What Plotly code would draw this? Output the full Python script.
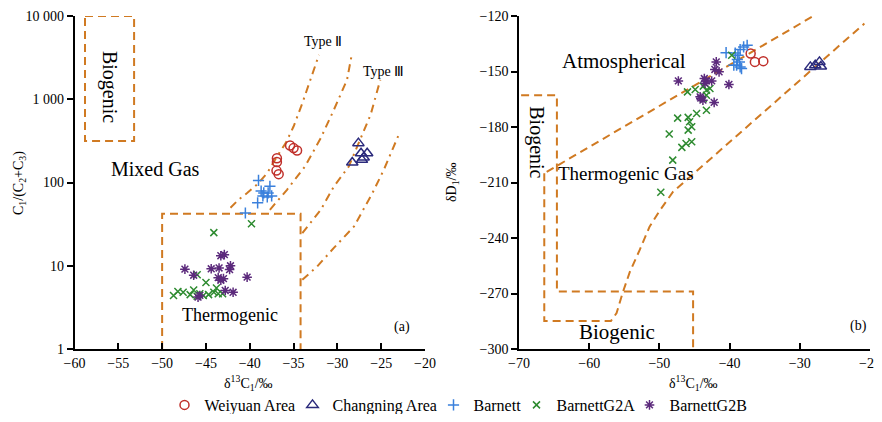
import plotly.graph_objects as go

# ---------------- data: panel (a) ----------------
weiyuan_c13_a = [-36.9, -36.9, -36.95, -36.7, -35.4, -35.0, -34.6]
weiyuan_ratio_a = [196, 176, 139, 126, 278, 259, 242]

changning_c13_a = [-27.6, -27.3, -26.6, -28.3, -27.2, -27.0]
changning_ratio_a = [297, 225, 225, 174, 187, 200]

barnett_c13_a = [-39.0, -37.7, -38.7, -38.4, -38.0, -37.5, -39.1, -38.5, -40.5, -37.9]
barnett_ratio_a = [106, 90, 79, 75, 67, 69, 57, 69, 43, 75]

g2a_c13_a = [-39.8, -44.1, -46.0, -45.0, -48.7, -48.2, -47.6, -46.8, -46.4, -45.7,
             -45.3, -44.7, -44.1, -43.8, -43.6, -43.1, -46.0]
g2a_ratio_a = [32, 25, 7.8, 6.3, 4.4, 4.9, 4.8, 4.5, 5.1, 4.6,
               4.4, 4.5, 4.8, 5.4, 4.6, 4.6, 4.3]

g2b_c13_a = [-47.4, -46.4, -44.4, -43.5, -43.3, -42.9, -42.2, -42.3, -43.6, -43.3,
             -40.3, -42.8, -41.9, -45.7, -45.9, -43.0]
g2b_ratio_a = [9.1, 7.7, 9.2, 9.4, 13.2, 13.6, 10.0, 9.0, 7.2, 6.7,
               7.3, 5.05, 4.8, 4.4, 4.2, 7.0]

# boundaries (a)
bio_box_a_x = [-58.8, -53.2, -53.2, -58.8, -58.8]
bio_box_a_y = [10000, 10000, 316, 316, 10000]
thermo_box_a_x = [-50, -50, -34.2, -34.2]
thermo_box_a_y = [1, 42, 42, 1]
type1_x = [-42.2, -41.3, -40.3, -39.2, -38.0, -36.9, -35.9, -35.0, -34.0, -33.1, -32.1]
type1_y = [49.7, 62, 74.6, 93.8, 130, 205, 297, 470, 897, 1710, 3413]
type2_x = [-37.7, -35.75, -33.7, -31.9, -30.4, -28.9, -28.4]
type2_y = [47, 81.7, 155.6, 341, 746, 1710, 3258]
type3_x = [-34.0, -31.9, -30.4, -28.7, -27.4, -26.2, -25.1]
type3_y = [24.7, 47, 89.5, 155.6, 328, 655, 1710]
type4_x = [-34.0, -32.3, -30.4, -28.1, -26.0, -24.7, -23.0]
type4_y = [6.8, 9.8, 16.4, 29.6, 74.6, 142, 374]

# ---------------- data: panel (b) ----------------
weiyuan_c13_b = [-37.0, -36.4, -35.2]
weiyuan_dD_b = [-140.3, -144.8, -144.4]

changning_c13_b = [-28.5, -27.8, -27.2, -27.0]
changning_dD_b = [-147.5, -146.6, -144.8, -147.3]

barnett_c13_b = [-40.5, -39.2, -38.5, -38.0, -37.5, -38.8, -38.9, -39.0, -38.5, -38.3, -39.4, -38.6]
barnett_dD_b = [-139.8, -140.0, -138.1, -136.7, -135.8, -141.2, -143.5, -146.6, -147.5, -148.4, -146.6, -144.8]

g2a_c13_b = [-39.7, -46.0, -44.9, -43.75, -43.3, -42.8, -43.3, -43.75, -43.3, -44.7, -47.4,
             -45.9, -45.7, -45.4, -45.9, -48.6, -45.4, -46.2, -46.8, -48.1, -49.8]
g2a_dD_b = [-141.2, -161.0, -159.7, -157.9, -160.1, -159.2, -162.8, -164.6, -170.9, -172.7, -175.2,
            -174.8, -177.2, -179.9, -181.7, -183.8, -188.0, -188.9, -191.0, -197.9, -215.3]

g2b_c13_b = [-41.9, -42.1, -41.5, -47.3, -43.6, -43.3, -42.55, -40.1, -44.2, -43.8, -42.2, -43.5, -44.1]
g2b_dD_b = [-144.8, -148.9, -150.2, -155.1, -153.8, -155.1, -155.1, -157.0, -163.7, -165.5, -166.7, -156.3, -164.4]

# boundaries (b)
upper_line_b_x = [-28.3, -66.4]
upper_line_b_y = [-120.5, -205.0]
outer_path_b_x = [-66.4, -66.4, -56.9, -56.1, -55.25, -54.2, -52.8, -51.4, -49.9, -48.05, -20.8]
outer_path_b_y = [-205.0, -284.8, -284.8, -280.6, -269.8, -258.2, -246.4, -233.9, -224.9, -215.0, -124.1]
inner_path_b_x = [-69.7, -64.6, -64.6, -45.2, -45.2]
inner_path_b_y = [-162.8, -162.8, -268.9, -268.9, -300]

# ---------------- style ----------------
W, H = 874, 406          # page adds an 8px body margin at top/left
OFF = 8
SERIF = "Liberation Serif"
ORANGE = "#d07a22"
C_WEI = "#c0302b"
C_CHA = "#2b2a7c"
C_BAR = "#3a80dc"
C_G2A = "#2e8b30"
C_G2B = "#5c2a7c"
DASH = "8px,5px"
DASHDOT = "8px,5px,2px,5px"


def px_x(page_px):
    return (page_px - OFF) / W


fig = go.Figure()


def boundary(x, y, xa, ya, dash):
    fig.add_trace(go.Scatter(x=x, y=y, mode="lines", xaxis=xa, yaxis=ya,
                             line=dict(color=ORANGE, width=2, dash=dash),
                             showlegend=False, hoverinfo="skip"))


boundary(bio_box_a_x, bio_box_a_y, "x", "y", DASH)
boundary(thermo_box_a_x, thermo_box_a_y, "x", "y", DASH)
for tx, ty in [(type1_x, type1_y), (type2_x, type2_y), (type3_x, type3_y), (type4_x, type4_y)]:
    boundary(tx, ty, "x", "y", DASHDOT)
boundary(upper_line_b_x, upper_line_b_y, "x2", "y2", DASH)
boundary(outer_path_b_x, outer_path_b_y, "x2", "y2", DASH)
boundary(inner_path_b_x, inner_path_b_y, "x2", "y2", DASH)

series = [
    ("Weiyuan Area", C_WEI, "circle-open", 9, 83, weiyuan_c13_a, weiyuan_ratio_a, weiyuan_c13_b, weiyuan_dD_b),
    ("Changning Area", C_CHA, "triangle-up-open", 10, 96, changning_c13_a, changning_ratio_a, changning_c13_b, changning_dD_b),
    ("Barnett", C_BAR, "cross-thin-open", 8, 38, barnett_c13_a, barnett_ratio_a, barnett_c13_b, barnett_dD_b),
    ("BarnettG2A", C_G2A, "x-thin-open", 7, 68, g2a_c13_a, g2a_ratio_a, g2a_c13_b, g2a_dD_b),
    ("BarnettG2B", C_G2B, "asterisk-open", 8, 77, g2b_c13_a, g2b_ratio_a, g2b_c13_b, g2b_dD_b),
]
for name, col, sym, size, lw, xa, ya, xb, yb in series:
    mk = dict(symbol=sym, size=size, color=col, line=dict(color=col, width=1.5))
    fig.add_trace(go.Scatter(x=xa, y=ya, mode="markers", name=name, marker=mk,
                             xaxis="x", yaxis="y", legendgroup=name, showlegend=True,
                             legendwidth=lw))
    fig.add_trace(go.Scatter(x=xb, y=yb, mode="markers", name=name, marker=mk,
                             xaxis="x2", yaxis="y2", legendgroup=name, showlegend=False))

axis_common = dict(showline=True, linecolor="black", linewidth=1.5, showgrid=False,
                   zeroline=False, tickfont=dict(family=SERIF, size=14, color="black"),
                   tickcolor="black", tickwidth=1.5, ticklen=6, automargin=False,
                   ticklabeloverflow="allow")

fig.update_layout(
    width=W, height=H,
    margin=dict(l=0, r=0, t=16 - OFF, b=H - (349 - OFF), autoexpand=False),
    paper_bgcolor="white", plot_bgcolor="white",
    font=dict(family=SERIF, color="black"),
    xaxis=dict(domain=[px_x(74.5), px_x(425)], range=[-60, -20],
               tickvals=[-60, -55, -50, -45, -40, -35, -30, -25, -20],
               ticks="inside", anchor="y", **axis_common),
    yaxis=dict(domain=[0, 1], type="log", range=[0, 4], tickvals=[1, 10, 100, 1000, 10000],
               ticktext=["1", "10", "100", "1 000", "10 000"], ticks="outside", anchor="x", **axis_common),
    xaxis2=dict(domain=[px_x(519), px_x(870)], range=[-70, -20], tickvals=[-70, -60, -50, -40, -30, -20],
                ticks="inside", anchor="y2", **axis_common),
    yaxis2=dict(domain=[0, 1], range=[-300, -120], tickvals=[-300, -270, -240, -210, -180, -150, -120],
                ticks="outside", anchor="x2", **axis_common),
    legend=dict(orientation="h", x=px_x(458), xanchor="center", y=(349 - 405) / 333, yanchor="middle",
                font=dict(family=SERIF, size=16, color="black"), itemwidth=30, tracegroupgap=0,
                bgcolor="rgba(0,0,0,0)"),
)


def note(text, x, y, xref, yref, size, angle=0):
    fig.add_annotation(text=text, x=x, y=y, xref=xref, yref=yref, showarrow=False,
                       xanchor="center", yanchor="middle", textangle=angle,
                       font=dict(family=SERIF, size=size, color="black"))


# panel (a) labels (log axis -> y in log10 units)
note("Type Ⅱ", -31.6, 3.689, "x", "y", 14)
note("Type Ⅲ", -24.7, 3.333, "x", "y", 14)
note("Biogenic", -56.06, 3.148, "x", "y", 20, 90)
note("Mixed Gas", -50.7, 2.162, "x", "y", 20)
note("Thermogenic", -42.2, 0.412, "x", "y", 18)
note("(a)", -22.6, 0.268, "x", "y", 14)

# panel (b) labels
note("Atmospherical", -55.0, -144.4, "x2", "y2", 21)
note("Biogenic", -67.5, -188.0, "x2", "y2", 20, 90)
note("Thermogenic Gas", -54.7, -205.4, "x2", "y2", 19)
note("Biogenic", -56.0, -291.0, "x2", "y2", 21)
note("(b)", -21.7, -287.8, "x2", "y2", 14)

# axis titles
note("δ<sup>13</sup>C<sub>1</sub>/‰", px_x(248), (349 - 383) / 333, "paper", "paper", 14)
note("δ<sup>13</sup>C<sub>1</sub>/‰", px_x(693), (349 - 383) / 333, "paper", "paper", 14)
note("C<sub>1</sub>/(C<sub>2</sub>+C<sub>3</sub>)", px_x(19), (349 - 183) / 333, "paper", "paper", 14, -90)
note("δD<sub>1</sub>/‰", px_x(452), (349 - 182) / 333, "paper", "paper", 14, -90)

fig.write_html("out.html")
